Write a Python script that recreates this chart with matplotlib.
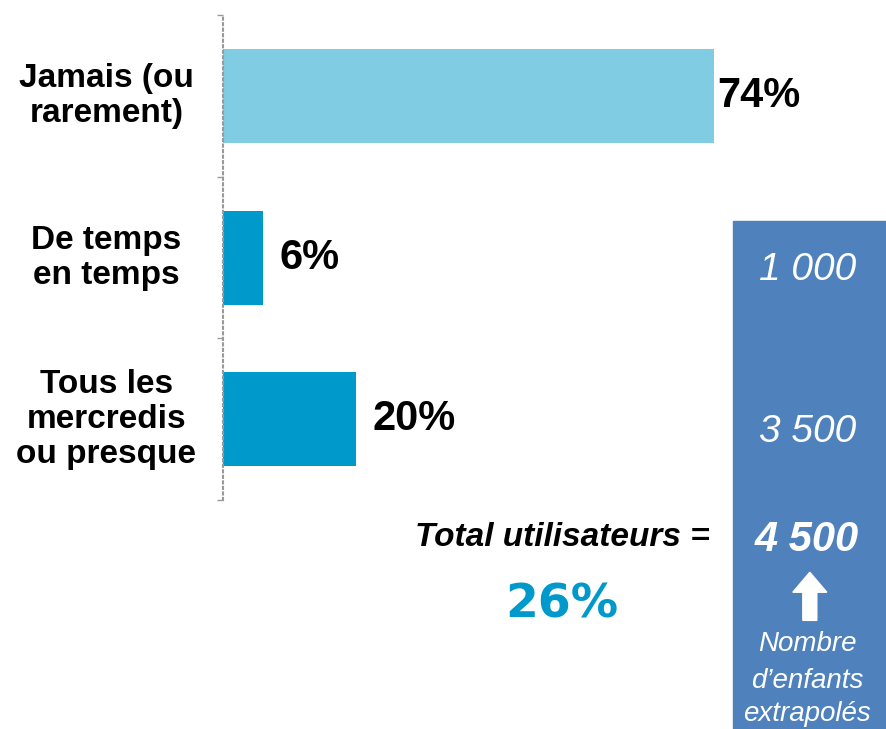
import matplotlib.pyplot as plt
from matplotlib.patches import Rectangle, FancyArrow
from matplotlib.transforms import blended_transform_factory

categories = ["Jamais (ou\nrarement)", "De temps\nen temps", "Tous les\nmercredis\nou presque"]
values = [74, 6, 20]
colors = ["#7FCCE3", "#0099CC", "#0099CC"]
value_labels = ["74%", "6%", "20%"]
label_pad = [0.6, 2.5, 2.5]

counts = ["1 000", "3 500"]
count_y = [0.630, 0.407]
total_count = "4 500"
total_pct = "26%"

fig = plt.figure(figsize=(8.86, 7.29), dpi=100)
ax = fig.add_axes([0.2517, 0.314, 0.7483, 0.665])

y = list(range(len(values)))
ax.barh(y, values, height=0.58, color=colors)
ax.set_xlim(0, 100)
ax.set_ylim(2.5, -0.5)

for i, v in enumerate(values):
    ax.text(v + label_pad[i], i, value_labels[i], va="center", ha="left",
            fontsize=30, fontweight="bold", family="Liberation Sans")

trans = blended_transform_factory(fig.transFigure, ax.transData)
for i, c in enumerate(categories):
    ax.text(0.12, i, c, transform=trans, ha="center", va="center",
            multialignment="center", fontsize=24, fontweight="bold",
            family="Liberation Sans", linespacing=1.17)

for s in ["top", "right", "bottom"]:
    ax.spines[s].set_visible(False)
ax.spines["left"].set_color("#999999")
ax.spines["left"].set_linestyle(":")
ax.spines["left"].set_linewidth(1.5)
ax.set_xticks([])
ax.set_yticks([-0.5, 0.5, 1.5, 2.5])
ax.set_yticklabels([])
ax.tick_params(axis="y", length=4, color="#999999", width=1)

# right-hand box with extrapolated counts
fig.patches.append(Rectangle((0.8273, 0), 0.1727, 0.6968, transform=fig.transFigure,
                             color="#4F81BD", zorder=0))
for t, yy in zip(counts, count_y):
    fig.text(0.911, yy, t, color="white", fontsize=28, style="italic",
             family="Liberation Sans", ha="center", va="center")
fig.text(0.911, 0.259, total_count, color="white", fontsize=30, style="italic",
         fontweight="bold", family="Liberation Sans", ha="center", va="center")
fig.patches.append(FancyArrow(0.914, 0.149, 0, 0.066, width=0.0158, head_width=0.0384,
                              head_length=0.0274, length_includes_head=True,
                              transform=fig.transFigure, color="white", zorder=2))
fig.text(0.911, 0.116, "Nombre", color="white", fontsize=20, style="italic",
         family="Liberation Sans", ha="center", va="center")
fig.text(0.911, 0.066, "d\u2019enfants", color="white", fontsize=20, style="italic",
         family="Liberation Sans", ha="center", va="center")
fig.text(0.911, 0.020, "extrapolés", color="white", fontsize=20, style="italic",
         family="Liberation Sans", ha="center", va="center")

fig.text(0.801, 0.263, "Total utilisateurs =", fontsize=24, style="italic",
         fontweight="bold", family="Liberation Sans", ha="right", va="center")
fig.text(0.634, 0.170, total_pct, fontsize=34, fontweight="bold", color="#0099CC",
         family="DejaVu Sans", ha="center", va="center")

fig.savefig("out.png", dpi=100)
